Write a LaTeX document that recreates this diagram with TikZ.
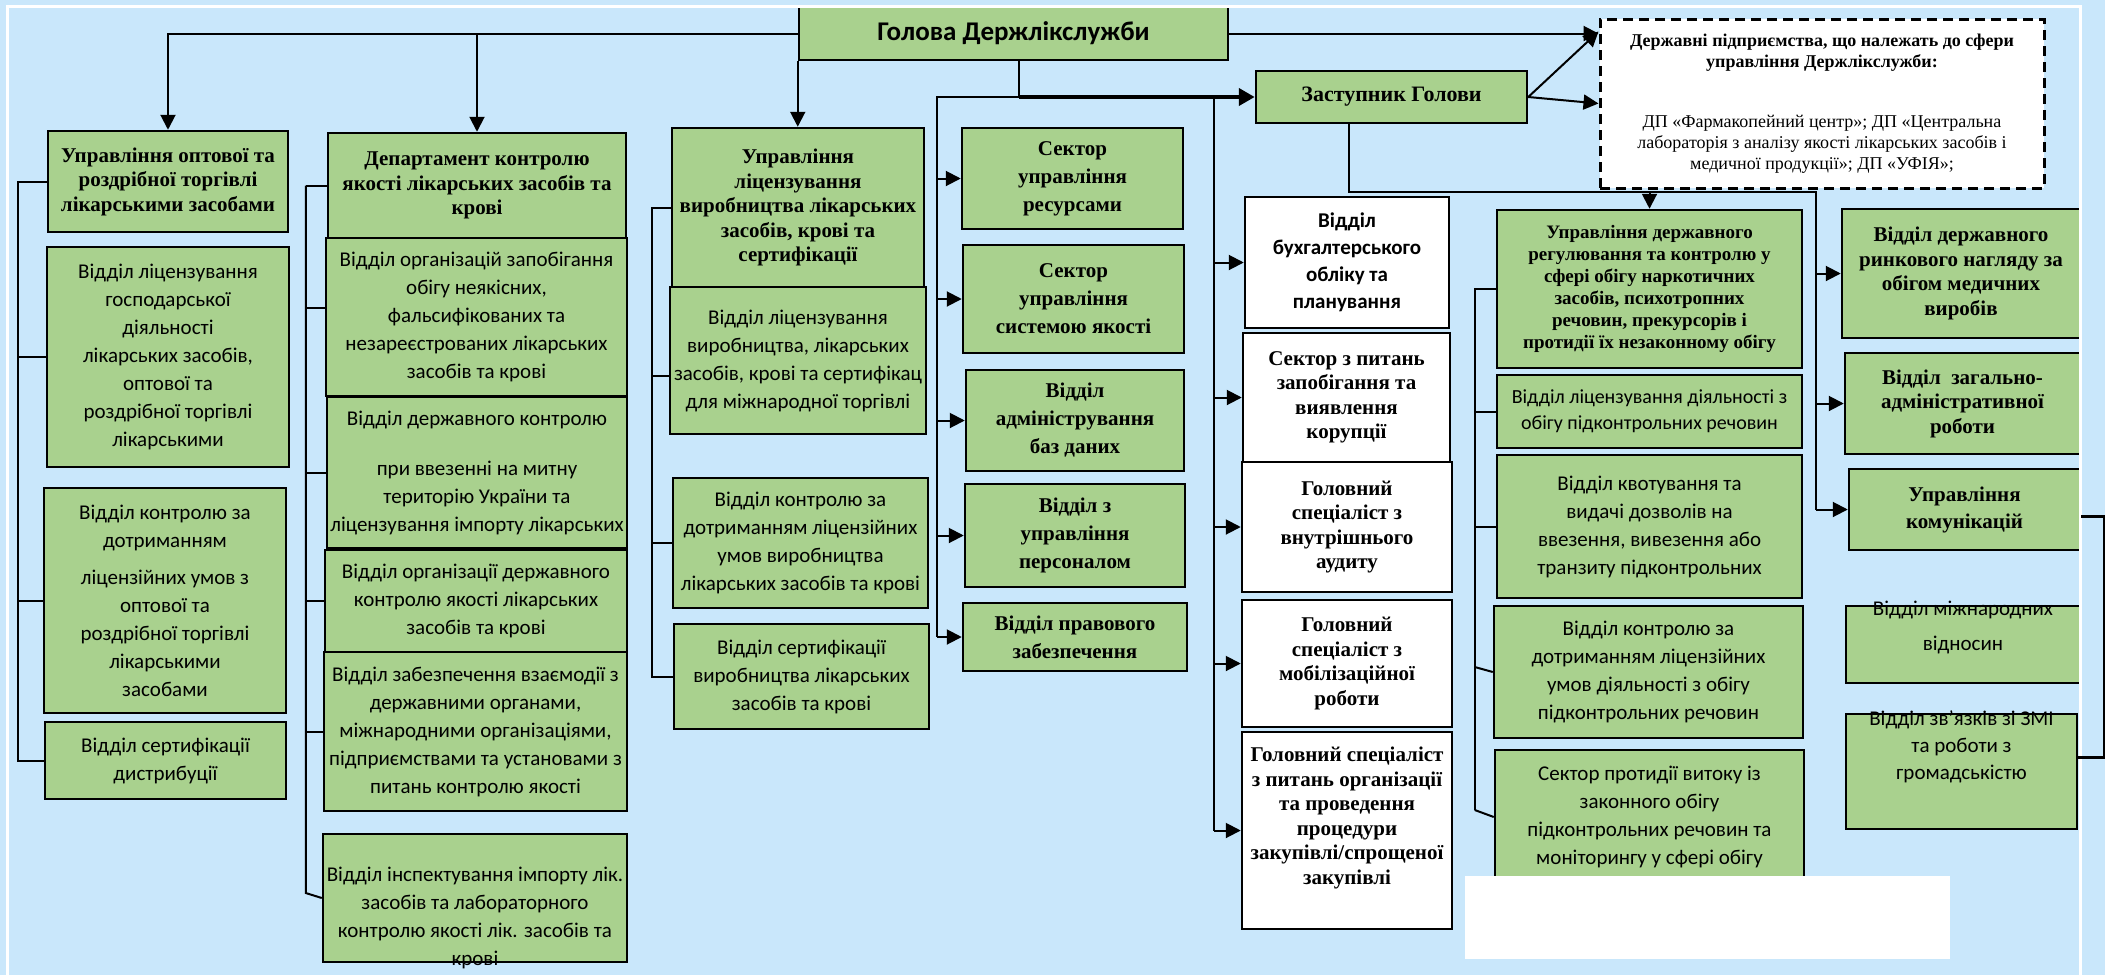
\documentclass[tikz,border=0pt]{standalone}
\usepackage{fontspec}
\setmainfont{Carlito}
\newfontfamily\tnr{Liberation Serif}
\usetikzlibrary{arrows.meta}
\definecolor{bgblue}{HTML}{C9E7FB}
\definecolor{boxgreen}{HTML}{A9D18E}

\tikzset{
  grn/.style={draw, line width=2.5pt, fill=boxgreen, align=center, inner sep=0pt},
  wht/.style={grn, fill=white},
  sz/.style 2 args={minimum width=#1pt, minimum height=#2pt},
  txt/.style={font=\fontsize{21}{28}\selectfont},
  hd/.style={font=\tnr\bfseries\fontsize{21}{24.5}\selectfont},
  con/.style={line width=2pt},
  arr/.style={line width=2pt, -{Triangle[length=15pt,width=15pt]}},
  thickarr/.style={line width=4.5pt, -{Triangle[length=16pt,width=17pt]}},
}

\begin{document}
\begin{tikzpicture}[x=1pt,y=-1pt]
\useasboundingbox (0,0) rectangle (2105,975);
\fill[bgblue] (0,0) rectangle (2105,975);

% head
\node[grn, sz={429}{53}, font=\bfseries\fontsize{27}{32}\selectfont] (g) at (1013.5,33.5) {Голова Держлікслужби};

% wholesale and retail trade
\node[grn, hd, sz={240}{101}] (a0) at (168,181.5) {Управління оптової та\\роздрібної торгівлі\\лікарськими засобами};
\node[grn, txt, sz={242}{220}] (a1) at (168,357) {Відділ ліцензування\\господарської\\діяльності\\лікарських засобів,\\оптової та\\роздрібної торгівлі\\лікарськими};
\node[grn, txt, sz={242}{225}] (a2) at (165,600.5) {Відділ контролю за\\дотриманням\\[9pt]ліцензійних умов з\\оптової та\\роздрібної торгівлі\\лікарськими\\засобами};
\node[grn, txt, sz={241}{77}] (a3) at (165.5,760.5) {Відділ сертифікації\\дистрибуції};

% quality control department
\node[grn, hd, sz={298}{105}] (b0) at (477,185.5) {Департамент контролю\\якості лікарських засобів та\\крові};
\node[grn, txt, sz={301}{158}] (b1) at (476.5,317) {Відділ організацій запобігання\\обігу неякісних,\\фальсифікованих та\\незареєстрованих лікарських\\засобів та крові};
\node[grn, txt, sz={300}{151}] (b2) at (477,472.5) {Відділ державного контролю\\[22pt]при ввезенні на митну\\територію України та\\ліцензування імпорту лікарських};
\node[grn, txt, sz={302}{102}] (b3) at (476,601) {Відділ організації державного\\контролю якості лікарських\\засобів та крові};
\node[grn, txt, sz={303}{159}] (b4) at (475.5,731.5) {Відділ забезпечення взаємодії з\\державними органами,\\міжнародними організаціями,\\підприємствами та установами з\\питань контролю якості};
\node[grn, sz={304}{128}] (b5) at (475,898) {};
\node[txt, align=center] (b5t) at (475,918) {Відділ інспектування імпорту лік.\\засобів та лабораторного\\контролю якості лік. засобів та\\крові};

% licensing of production
\node[grn, hd, sz={252}{159}] (c0) at (798,207.5) {Управління\\ліцензування\\виробництва лікарських\\засобів, крові та\\сертифікації};
\node[grn, txt, sz={256}{147}] (c1) at (798,360.5) {Відділ ліцензування\\виробництва, лікарських\\засобів, крові та сертифікац\\для міжнародної торгівлі};
\node[grn, txt, sz={255}{130}] (c2) at (800.5,543) {Відділ контролю за\\дотриманням ліцензійних\\умов виробництва\\лікарських засобів та крові};
\node[grn, txt, sz={255}{105}] (c3) at (801.5,676.5) {Відділ сертифікації\\виробництва лікарських\\засобів та крові};

% sectors
\node[grn, hd, sz={221}{101}, font=\tnr\bfseries\fontsize{21}{28}\selectfont] (d0) at (1072.5,178.5) {Сектор\\управління\\ресурсами};
\node[grn, hd, sz={221}{108}, font=\tnr\bfseries\fontsize{21}{28}\selectfont] (d1) at (1073.5,299) {Сектор\\управління\\системою якості};
\node[grn, hd, sz={218}{101}, font=\tnr\bfseries\fontsize{21}{28}\selectfont] (d2) at (1075,420.5) {Відділ\\адміністрування\\баз даних};
\node[grn, hd, sz={220}{103}, font=\tnr\bfseries\fontsize{21}{28}\selectfont] (d3) at (1075,535.5) {Відділ з\\управління\\персоналом};
\node[grn, hd, sz={224}{68}, font=\tnr\bfseries\fontsize{21}{28}\selectfont] (d4) at (1075,637) {Відділ правового\\забезпечення};

% specialists
\node[wht, sz={204}{131}, font=\bfseries\fontsize{21}{27}\selectfont] (e0) at (1347,262.5) {Відділ\\бухгалтерського\\обліку та\\планування};
\node[wht, hd, sz={207}{129}] (e1) at (1346.5,397.5) {Сектор з питань\\запобігання та\\виявлення\\корупції};
\node[wht, hd, sz={210}{130}] (e2) at (1347,527) {Головний\\спеціаліст з\\внутрішнього\\аудиту};
\node[wht, hd, sz={210}{127}] (e3) at (1347,663.5) {Головний\\спеціаліст з\\мобілізаційної\\роботи};
\node[wht, sz={210}{197}] (e4) at (1347,830.5) {};
\node[hd, align=center] (e4t) at (1347,818) {Головний спеціаліст\\з питань організації\\та проведення\\процедури\\закупівлі/спрощеної\\закупівлі};

% deputy and enterprises
\node[grn, hd, sz={271}{52}, font=\tnr\bfseries\fontsize{22}{26}\selectfont] (z) at (1391.5,97) {Заступник Голови};
\node[draw, dash pattern=on 10pt off 6pt, line width=3pt, fill=white, sz={444}{169}, align=center, inner sep=0pt, font=\tnr\fontsize{18}{21}\selectfont] (dp) at (1822,103.5) {\bfseries Державні підприємства, що належать до сфери\\\bfseries управління Держлікслужби:\\[39pt]ДП «Фармакопейний центр»; ДП «Центральна\\лабораторія з аналізу якості лікарських засобів і\\медичної продукції»; ДП «УФІЯ»;};

% controlled substances
\node[grn, sz={305}{158}, font=\tnr\bfseries\fontsize{19}{22}\selectfont] (f0) at (1649.5,289) {Управління державного\\регулювання та контролю у\\сфері обігу наркотичних\\засобів, психотропних\\речовин, прекурсорів і\\протидії їх незаконному обігу};
\node[grn, sz={305}{73}, font=\fontsize{20}{26}\selectfont] (f1) at (1649.5,411.5) {Відділ ліцензування діяльності з\\обігу підконтрольних речовин};
\node[grn, txt, sz={305}{143}] (f2) at (1649.5,526.5) {Відділ квотування та\\видачі дозволів на\\ввезення, вивезення або\\транзиту підконтрольних};
\node[grn, txt, sz={309}{132}] (f3) at (1648.5,672) {Відділ контролю за\\дотриманням ліцензійних\\умов діяльності з обігу\\підконтрольних речовин};
\node[grn, txt, sz={309}{134}] (f4) at (1649.5,817) {Сектор протидії витоку із\\законного обігу\\підконтрольних речовин та\\моніторингу у сфері обігу};

% market surveillance and communications
\node[grn, hd, sz={238}{129}] (h0) at (1961,273.5) {Відділ державного\\ринкового нагляду за\\обігом медичних\\виробів};
\node[grn, hd, sz={235}{101}] (h1) at (1962.5,403.5) {Відділ\ \ загально-\\адміністративної\\роботи};
\node[grn, hd, sz={231}{81}, font=\tnr\bfseries\fontsize{21}{27}\selectfont] (h2) at (1964.5,509.5) {Управління\\комунікацій};
\node[grn, sz={234}{77}] (h3) at (1963,644.5) {};
\node[txt, align=center, font=\fontsize{21}{35}\selectfont] (h3t) at (1963,627) {Відділ міжнародних\\відносин};
\node[grn, sz={231}{115}] (h4) at (1961.5,771.5) {};
\node[txt, align=center, font=\fontsize{21}{27}\selectfont] (h4t) at (1961.5,747) {Відділ зв’язків зі ЗМІ\\та роботи з\\громадськістю};

% connectors from the head
\draw[arr] (g.west) -| (a0.north);
\draw[arr] (b0.north |- g.west) -- (b0.north);
\draw[arr] (g.south west) -- (g.south west |- c0.north);
\draw[arr] (g.east) -- (g.east -| dp.west);
\coordinate (gdown) at (1019,97);
\coordinate (jD) at (937,97);
\coordinate (jE) at (1214,97);
\draw[con] (g.south -| gdown) -- (gdown) -- (jD) -- (jD |- d4.west);
\draw[thickarr] (gdown) -- (z.west);
\foreach \n in {d0,d1,d2,d3,d4}
  \draw[arr] (jD |- \n.west) -- (\n.west);
\draw[con] (jE) -- (jE |- e4.west);
\foreach \n in {e0,e1,e2,e3,e4}
  \draw[arr] (jE |- \n.west) -- (\n.west);

% brackets of the departments
\draw[con] (a0.west) -- ++(-29,0) coordinate (jA) |- (a3.west);
\foreach \n in {a1,a2}
  \draw[con] (jA |- \n.west) -- (\n.west);
\draw[con] (b0.west) -- ++(-21,0) coordinate (jB);
\draw[con] (b5.west) -- ++(-16,-5) coordinate (jB5) -- (jB);
\draw[con] (jB |- 0,308) -- (b1.west |- 0,308);
\foreach \n in {b2,b3,b4}
  \draw[con] (jB |- \n.west) -- (\n.west);
\draw[con] (c0.west) -- ++(-19,0) coordinate (jC) |- (c3.west);
\draw[con] (jC |- 0,376) -- (c1.west |- 0,376);
\draw[con] (jC |- c2.west) -- (c2.west);

% deputy
\draw[arr] (z.east) -- ([yshift=-14pt]dp.north west);
\draw[arr] (z.east) -- (dp.west);
\coordinate (zb) at (1349,192);
\coordinate (jH) at (1816,192);
\draw[con] (z.south -| zb) -- (zb) -- (jH) -- (jH |- h2.west);
\draw[arr] (f0.north |- zb) -- (f0.north);
\foreach \n in {h0,h1,h2}
  \draw[arr] (jH |- \n.west) -- (\n.west);
\draw[con] (f0.west) -- ++(-21,0) coordinate (jF) -- (jF |- 0,810);
\foreach \n in {f1,f2}
  \draw[con] (jF |- \n.west) -- (\n.west);
\draw[con] (f3.west) -- ++(-18,-5);
\draw[con] (f4.west) -- ++(-19,-7);

% frame
\fill[white] (1465,876) rectangle (1950,959);
\draw[white, line width=3pt] (7,975) -- (7,6) -- (2080,6) -- (2080,975);
\draw[line width=3pt] ([yshift=-6.5pt]h2.east) -- ++(23,0) coordinate (jR) -- (jR |- 0,757) -- (h4.east |- 0,757);
\end{tikzpicture}
\end{document}
